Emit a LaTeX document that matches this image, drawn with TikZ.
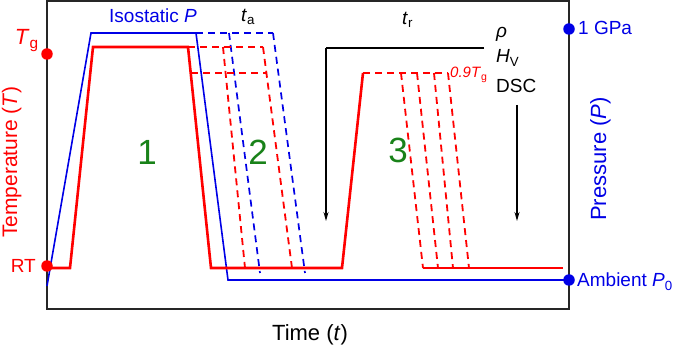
\documentclass[tikz,border=0pt]{standalone}
\usepackage{fontspec}
\setmainfont{Liberation Sans}
\usetikzlibrary{arrows.meta}
\definecolor{tempred}{RGB}{255,0,0}
\definecolor{presblue}{RGB}{0,0,230}
\definecolor{stagegreen}{RGB}{25,130,25}

\begin{document}
\begin{tikzpicture}[x=1pt,y=-1pt,
        tcurve/.style={tempred, line width=2.6pt},
        pcurve/.style={presblue, line width=1.6pt},
        tdash/.style={tempred, line width=1.8pt, dash pattern=on 7pt off 5pt},
        pdash/.style={presblue, line width=1.7pt, dash pattern=on 7pt off 5pt},
        marker/.style={circle, fill, inner sep=0pt, minimum size=11.5pt},
        lbl/.style={inner sep=0pt, font=\fontsize{19}{22}\selectfont},
        axislbl/.style={inner sep=0pt, font=\fontsize{22}{26}\selectfont},
        stage/.style={stagegreen, inner sep=0pt, font=\fontsize{35}{40}\selectfont},
        probe/.style={-{Stealth[length=9pt,width=5pt]}, line width=1.2pt}]
        % Define dimensions
        \def\xl{47}
        \def\xr{569}
        \def\yb{309}
        \def\ytg{47}
        \def\yrt{268}
        \def\ygpa{33}
        \def\yamb{280}
        \useasboundingbox (0,0) rectangle (675,347);
        % Frame of the plot
        \draw[black!85, line width=1.4pt] (\xl,1) rectangle (\xr,\yb);
        % Pressure curve and its shifted copies
        \draw[pcurve] (\xl,286) -- (91,\ygpa) -- (196,\ygpa) -- (228,\yamb) -- (\xr,\yamb);
        \draw[pdash] (196,\ygpa) -- (273,\ygpa);
        \foreach \xa/\xb in {229/260,273/305}
            \draw[pdash] (\xa,\ygpa) -- (\xb,273);
        % Temperature curve, stage 1 and 2
        \draw[tcurve] (\xl,\yrt) -- (70,\yrt) -- (93,\ytg) -- (188,\ytg) -- (211,\yrt) -- (342,\yrt) -- (363,73);
        \draw[tdash] (188,\ytg) -- (263,\ytg);
        \draw[tdash] (191,73) -- (267,73);
        \foreach \xa/\xb in {223/245,263/292}
            \draw[tdash] (\xa,\ytg) -- (\xb,\yrt);
        % Temperature curve, stage 3
        \draw[tdash] (363,73) -- (448,73);
        \foreach \xa/\xb in {401/423,417/438,434/453,448/469}
            \draw[tdash] (\xa,73) -- (\xb,\yrt);
        \draw[tcurve] (423,\yrt) -- (563,\yrt);
        % Measurements after relaxation
        \coordinate (trleft) at (326,48);
        \coordinate (trright) at (484,48);
        \coordinate (trdown) at (326,221);
        \coordinate (dsctop) at (517,105);
        \coordinate (dscdown) at (517,221);
        \draw[line width=1.2pt] (trright) -- (trleft);
        \draw[probe] (trleft) -- (trdown);
        \draw[probe] (dsctop) -- (dscdown);
        % Axis markers
        \node[marker, tempred] (tgdot) at (\xl,54) {};
        \node[marker, tempred] (rtdot) at (\xl,266) {};
        \node[marker, presblue] (gpadot) at (\xr,29) {};
        \node[marker, presblue] (ambdot) at (\xr,\yamb) {};
        \node[axislbl, tempred, anchor=base east] (tglbl) at (39,45) {\textit{T}\textsubscript{g}};
        \node[lbl, tempred, anchor=base east] (rtlbl) at (36,273) {RT};
        \node[lbl, presblue, anchor=base west] (gpalbl) at (578,35) {1 GPa};
        \node[lbl, presblue, anchor=base west] (amblbl) at (577,287) {Ambient \textit{P}\textsubscript{0}};
        % Axis titles
        \node[tempred, inner sep=0pt, font=\fontsize{21}{25}\selectfont, rotate=90, anchor=base] (templbl) at (17,162) {Temperature (\textit{T})};
        \node[axislbl, presblue, rotate=90, anchor=base] (preslbl) at (606,159) {Pressure (\textit{P})};
        \node[axislbl, anchor=base] (timelbl) at (310,341) {Time (\textit{t})};
        % Curve labels
        \node[lbl, presblue, anchor=base] (isolbl) at (153,23) {Isostatic \textit{P}};
        \node[lbl, anchor=base west] (talbl) at (241,22) {\textit{t}\textsubscript{a}};
        \node[lbl, anchor=base west] (trlbl) at (402,25) {\textit{t}\textsubscript{r}};
        \node[lbl, anchor=base west] (rholbl) at (496,38) {\textit{ρ}};
        \node[lbl, anchor=base west] (hvlbl) at (496,63) {\textit{H}\textsubscript{V}};
        \node[lbl, anchor=base west] (dsclbl) at (496,93) {DSC};
        \node[tempred, inner sep=0pt, font=\fontsize{15}{18}\selectfont, anchor=base west] (glasslbl) at (450,78) {\textit{0.9T}\textsubscript{g}};
        % Stage numbers
        \node[stage, anchor=base] (stageone) at (147,165) {1};
        \node[stage, anchor=base] (stagetwo) at (258,165) {2};
        \node[stage, anchor=base] (stagethree) at (398,163) {3};
    \end{tikzpicture}
\end{document}
